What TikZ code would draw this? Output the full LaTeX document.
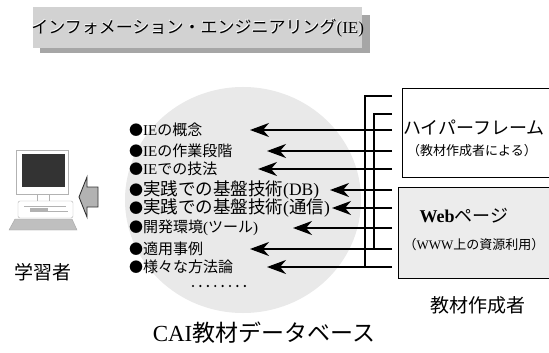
\documentclass[tikz,border=0pt]{standalone}
\usepackage{fontspec}
\setmainfont{Liberation Serif}
\newfontfamily\jp{Noto Sans CJK JP}
\usetikzlibrary{arrows.meta}

% round bullet used in front of each list entry
\newcommand\itembul{{\jp\fontsize{14}{14}\selectfont ●}}

\begin{document}
\begin{tikzpicture}[x=1pt,y=-1pt,
  item/.style={anchor=west,inner sep=0pt,font=\fontsize{15}{15}\selectfont},
  bigitem/.style={item,font=\fontsize{17.5}{17.5}\selectfont},
  feed/.style={line width=1.4pt,-{Stealth[length=19pt,width=14pt,inset=6pt]}},
  wire/.style={line width=1.4pt},
  srcbox/.style={draw,line width=1.3pt,anchor=north west,inner sep=0pt},
  lbl/.style={inner sep=0pt}]
\clip (0,0) rectangle (549,353);
\fill[white] (0,0) rectangle (549,353);

% title banner with its drop shadow
\fill[gray!70] (40,15) rectangle (370,53);
\node[fill=gray!35,anchor=north west,inner sep=0pt,minimum width=329pt,minimum height=41pt] (title) at (33,7) {};
\node[lbl,white] at ([xshift=-0.6pt,yshift=0.6pt]title.center) {\fontsize{17}{17}\selectfont\jp インフォメーション・エンジニアリング{\rmfamily (IE)}};
\node[lbl] (titletext) at (title.center) {\fontsize{17}{17}\selectfont\jp インフォメーション・エンジニアリング{\rmfamily (IE)}};

% database disc
\fill[gray!17] (243,200) ellipse [x radius=118, y radius=113];

% learner's computer
\draw[gray!60,fill=white] (16,150) rectangle (68,194);
\fill[black!80] (22,154) rectangle (65,187);
\draw[gray!60,fill=white] (37,194) rectangle (49,201);
\draw[gray!60,fill=white,rounded corners=2pt] (18,201) rectangle (73,218);
\draw[gray!60] (24,206) -- (66,206) (38,211) -- (68,211);
\fill[gray!60] (30,208) rectangle (48,212);
\draw[gray!70,fill=gray!50] (9,230) -- (77,230) -- (72,219) -- (15,219) -- cycle;
\node[lbl] (learner) at (43,272) {\fontsize{19}{19}\selectfont\jp 学習者};

% delivery arrow towards the learner
\draw[black!80,fill=gray!60,line width=0.9pt] (98,187) -- (87,187) -- (87,177) -- (79,197) -- (87,217) -- (87,207) -- (98,207) -- cycle;

% list of database contents
\node[item] (i1) at (129,130) {\itembul IE{\jp の概念}};
\node[item] (i2) at (129,151) {\itembul IE{\jp の作業段階}};
\node[item] (i3) at (129,169) {\itembul IE{\jp での技法}};
\node[bigitem] (i4) at (129,190) {\itembul{\jp 実践での基盤技術}(DB)};
\node[bigitem] (i5) at (129,208) {\itembul{\jp 実践での基盤技術}({\jp 通信})};
\node[item] (i6) at (129,228) {\itembul{\jp 開発環境}({\jp ツール})};
\node[item] (i7) at (129,249) {\itembul{\jp 適用事例}};
\node[item] (i8) at (129,267) {\itembul{\jp 様々な方法論}};
\foreach \k in {0,...,7} \fill (193+7.4*\k,286) circle (1.2pt);

\node[lbl] (dbname) at (264,333) {\fontsize{23}{23}\selectfont CAI{\jp 教材データベース}};

% arrow tips at the list
\coordinate (t1) at (250,130);
\coordinate (t2) at (267,151);
\coordinate (t3) at (258,169);
\coordinate (t4) at (330,190);
\coordinate (t5) at (332,208);
\coordinate (t6) at (293,228);
\coordinate (t7) at (250,249);
\coordinate (t8) at (267,267);
% feed ends next to the sources
\foreach \k/\y in {1/130,2/151,3/169,4/190,5/208,6/228,7/249,8/267}
  \coordinate (e\k) at (392,\y);
\coordinate (a0) at (392,96);
\coordinate (b0) at (392,114);
\coordinate (a1) at (365,96);
\coordinate (a2) at (365,267);
\coordinate (b1) at (374,114);
\coordinate (b2) at (374,249);

% bus lines
\draw[wire] (a0) -- (a1) -- (a2);
\draw[wire] (b0) -- (b1) -- (b2);
\foreach \k in {1,...,8} \draw[feed] (e\k) -- (t\k);

% material sources
\node[srcbox,fill=white,minimum width=170pt,minimum height=89pt] (hyper) at (402,88) {};
\node[lbl] (hypert) at (474,128) {\fontsize{18}{18}\selectfont\jp ハイパーフレーム};
\node[lbl] (hypers) at (472,151) {\fontsize{13}{13}\selectfont\jp （教材作成者による）};
\node[srcbox,fill=gray!15,minimum width=170pt,minimum height=91pt] (web) at (398,187) {};
\node[lbl] (webt) at (464,216) {\fontsize{18}{18}\selectfont\bfseries Web{\jp\mdseries ページ}};
\node[lbl] (webs) at (474,245) {\fontsize{13}{13}\selectfont{\jp （}WWW{\jp 上の資源利用）}};

\node[lbl] (author) at (478,305) {\fontsize{19}{19}\selectfont\jp 教材作成者};
\end{tikzpicture}
\end{document}
